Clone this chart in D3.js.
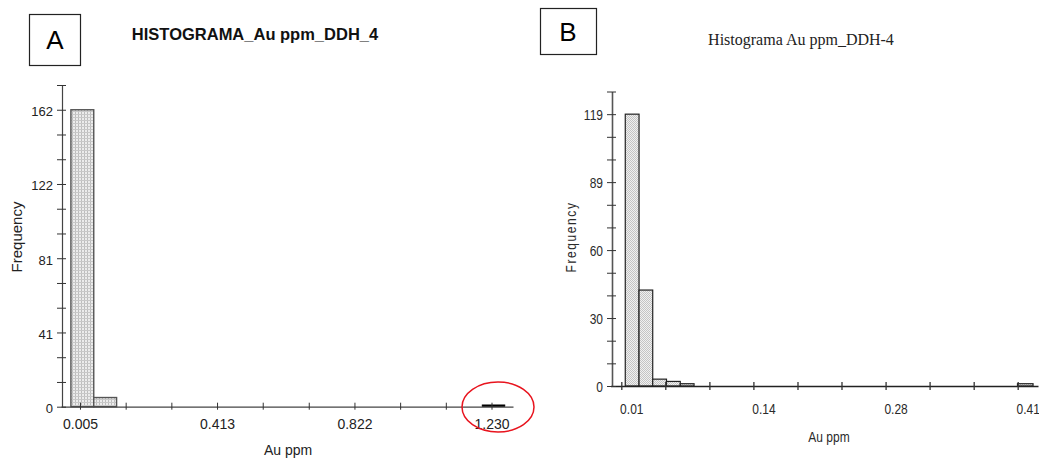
<!DOCTYPE html>
<html>
<head>
<meta charset="utf-8">
<script src="https://cdn.jsdelivr.net/npm/d3@7"></script>
<style>
  html, body { margin: 0; padding: 0; background: #fff; }
  svg { display: block; }
  .axA text { font-family: "Liberation Sans", Arial, sans-serif; fill: #222; }
  .axB text { font-family: "Liberation Sans", Arial, sans-serif; fill: #2a2a2a; }
</style>
</head>
<body>
<script>
// ---- Panel A data (HISTOGRAMA_Au ppm_DDH_4)
const aBinLo = [-0.022, 0.046, 1.202];
const aBinHi = [0.046, 0.114, 1.270];
const aCounts = [162, 5, 1];
const aXTicks = [0.005, 0.141, 0.277, 0.413, 0.549, 0.686, 0.822, 0.958, 1.094, 1.230];
const aXLabels = ["0.005", "", "", "0.413", "", "", "0.822", "", "", "1.230"];
const aYTicks = [0, 13.5, 27, 40.5, 54, 67.5, 81, 94.5, 108, 121.5, 135, 148.5, 162, 175.5];
const aYLabels = ["0", "", "", "41", "", "", "81", "", "", "122", "", "", "162", ""];

// ---- Panel B data (Histograma Au ppm_DDH-4)
const bBinLo = [0.0140, 0.0279, 0.0417, 0.0556, 0.0695, 0.4098];
const bBinHi = [0.0279, 0.0417, 0.0556, 0.0695, 0.0834, 0.4255];
const bCounts = [119, 42, 3, 2, 1, 1];
const bXTicks = [0.01, 0.0544, 0.0989, 0.1433, 0.1878, 0.2322, 0.2767, 0.3211, 0.3656, 0.41];
const bXLabels = ["0.01", "", "", "0.14", "", "", "0.28", "", "", "0.41"];
const bYTicks = [0, 9.92, 19.83, 29.75, 39.67, 49.58, 59.5, 69.42, 79.33, 89.25, 99.17, 109.08, 119, 128.92];
const bYLabels = ["0", "", "", "30", "", "", "60", "", "", "89", "", "", "119", ""];

const W = 1039, H = 458;
const NARROW = 0.8; // panel B uses a condensed face
const svg = d3.select("body").append("svg").attr("width", W).attr("height", H);

/*---------- patterns ----------*/
const defs = svg.append("defs");
const pA = defs.append("pattern").attr("id", "patA").attr("patternUnits", "userSpaceOnUse")
  .attr("width", 3).attr("height", 3);
pA.append("rect").attr("width", 3).attr("height", 3).attr("fill", "#ececec");
pA.append("rect").attr("width", 1).attr("height", 3).attr("fill", "#bdbdbd");
pA.append("rect").attr("width", 3).attr("height", 1).attr("fill", "#c8c8c8");

const pB = defs.append("pattern").attr("id", "patB").attr("patternUnits", "userSpaceOnUse")
  .attr("width", 2).attr("height", 2);
pB.append("rect").attr("width", 2).attr("height", 2).attr("fill", "#f0f0f0");
pB.append("rect").attr("width", 1).attr("height", 1).attr("fill", "#c4c4c4");
pB.append("rect").attr("x", 1).attr("y", 1).attr("width", 1).attr("height", 1).attr("fill", "#c4c4c4");

/*================ Panel A ================*/
const xA = d3.scaleLinear().domain([-0.0515, 1.294]).range([61, 513]);
const yA = d3.scaleLinear().domain([0, 175.5]).range([406.7, 85]);

// letter box
svg.append("rect").attr("x", 29.5).attr("y", 14.5).attr("width", 51).attr("height", 51)
  .attr("fill", "none").attr("stroke", "#222").attr("stroke-width", 1.2);
svg.append("text").attr("x", 55).attr("y", 49).attr("text-anchor", "middle")
  .style("font-family", "Liberation Sans, Arial, sans-serif").style("font-size", "26px").text("A");

svg.append("text").attr("x", 255).attr("y", 40).attr("text-anchor", "middle")
  .style("font-family", "Liberation Sans, Arial, sans-serif").style("font-size", "16.5px")
  .style("font-weight", "bold").attr("fill", "#111").text("HISTOGRAMA_Au ppm_DDH_4");

// bars
svg.append("g").selectAll("rect").data(aCounts).join("rect")
  .attr("x", (d, i) => xA(aBinLo[i]))
  .attr("width", (d, i) => xA(aBinHi[i]) - xA(aBinLo[i]))
  .attr("y", d => yA(d))
  .attr("height", d => yA(0) - yA(d))
  .attr("fill", d => d < 2 ? "#000" : "url(#patA)")
  .attr("stroke", d => d < 2 ? "#000" : "#555")
  .attr("stroke-width", d => d < 2 ? 0.6 : 1.4);

const axA = d3.axisBottom(xA).tickValues(aXTicks).tickSize(3).tickSizeOuter(0)
  .tickFormat((d, i) => aXLabels[i]);
const gxA = svg.append("g").attr("class", "axA").attr("transform", `translate(0,${yA(0)})`).call(axA);
gxA.select(".domain").attr("stroke", "#444").attr("stroke-width", 1.2);
gxA.selectAll(".tick line").attr("y1", -4).attr("y2", 3).attr("stroke", "#333");
gxA.selectAll(".tick text").attr("y", 12).style("font-size", "14px");

const ayA = d3.axisLeft(yA).tickValues(aYTicks).tickSize(4).tickSizeOuter(0)
  .tickFormat((d, i) => aYLabels[i]);
const gyA = svg.append("g").attr("class", "axA").attr("transform", "translate(62,0)").call(ayA);
gyA.select(".domain").attr("stroke", "#444").attr("stroke-width", 1.2);
gyA.selectAll(".tick line").attr("x1", -5).attr("x2", 4).attr("stroke", "#333");
gyA.selectAll(".tick text").attr("x", -9).attr("dy", "0.45em").style("font-size", "13px");

svg.append("text").attr("transform", "translate(22,237) rotate(-90)")
  .attr("text-anchor", "middle").style("font-family", "Liberation Sans, Arial, sans-serif")
  .style("font-size", "15px").attr("fill", "#222").text("Frequency");
svg.append("text").attr("x", 288).attr("y", 455).attr("text-anchor", "middle")
  .style("font-family", "Liberation Sans, Arial, sans-serif")
  .style("font-size", "14px").attr("fill", "#222").text("Au ppm");

// red ellipse around the outlier bin
svg.append("ellipse").attr("cx", 498).attr("cy", 407).attr("rx", 36).attr("ry", 25)
  .attr("fill", "none").attr("stroke", "#e8141e").attr("stroke-width", 1.5);

/*================ Panel B ================*/
const xB = d3.scaleLinear().domain([-0.0009, 0.4305]).range([610.5, 1038]);
const yB = d3.scaleLinear().domain([0, 128.92]).range([386, 91.5]);

svg.append("rect").attr("x", 540.5).attr("y", 8.5).attr("width", 56).attr("height", 46)
  .attr("fill", "none").attr("stroke", "#222").attr("stroke-width", 1.2);
svg.append("text").attr("x", 568).attr("y", 41).attr("text-anchor", "middle")
  .style("font-family", "Liberation Sans, Arial, sans-serif").style("font-size", "26px").text("B");

svg.append("text").attr("x", 801).attr("y", 45).attr("text-anchor", "middle")
  .style("font-family", "Liberation Serif, Times New Roman, serif").style("font-size", "16px")
  .attr("fill", "#222").text("Histograma Au ppm_DDH-4");

svg.append("g").selectAll("rect").data(bCounts).join("rect")
  .attr("x", (d, i) => xB(bBinLo[i]))
  .attr("width", (d, i) => xB(bBinHi[i]) - xB(bBinLo[i]))
  .attr("y", d => yB(d))
  .attr("height", d => yB(0) - yB(d))
  .attr("fill", "url(#patB)")
  .attr("stroke", "#222")
  .attr("stroke-width", 1.2);

const axB = d3.axisBottom(xB).tickValues(bXTicks).tickSize(3).tickSizeOuter(0)
  .tickFormat((d, i) => bXLabels[i]);
const gxB = svg.append("g").attr("class", "axB").attr("transform", `translate(0,${yB(0)})`).call(axB);
gxB.select(".domain").attr("stroke", "#222").attr("stroke-width", 1.3);
gxB.selectAll(".tick line").attr("y1", -4).attr("y2", 4).attr("stroke", "#333").attr("stroke-width", 1.3);
gxB.selectAll(".tick text").attr("x", 0).attr("y", 0).attr("dy", "0.36em")
  .attr("transform", `translate(10,23) scale(${NARROW},1)`).style("font-size", "15px");

const ayB = d3.axisLeft(yB).tickValues(bYTicks).tickSize(4).tickSizeOuter(0)
  .tickFormat((d, i) => bYLabels[i]);
const gyB = svg.append("g").attr("class", "axB").attr("transform", "translate(612,0)").call(ayB);
gyB.select(".domain").attr("stroke", "#555").attr("stroke-width", 1.6);
gyB.selectAll(".tick line").attr("x1", -5).attr("x2", 4).attr("stroke", "#333");
gyB.selectAll(".tick text").attr("x", 0).attr("dy", "0.36em")
  .attr("transform", `translate(-9,0) scale(${NARROW},1)`).style("font-size", "15px");

svg.append("text").attr("transform", `translate(576,237) rotate(-90) scale(${NARROW},1)`)
  .attr("text-anchor", "middle")
  .style("font-family", "Liberation Sans, Arial, sans-serif")
  .style("font-size", "15px").style("letter-spacing", "2px").attr("fill", "#2a2a2a").text("Frequency");
svg.append("text").attr("transform", `translate(829,442) scale(${NARROW},1)`).attr("text-anchor", "middle")
  .style("font-family", "Liberation Sans, Arial, sans-serif")
  .style("font-size", "15px").attr("fill", "#2a2a2a").text("Au ppm");
</script>
</body>
</html>
